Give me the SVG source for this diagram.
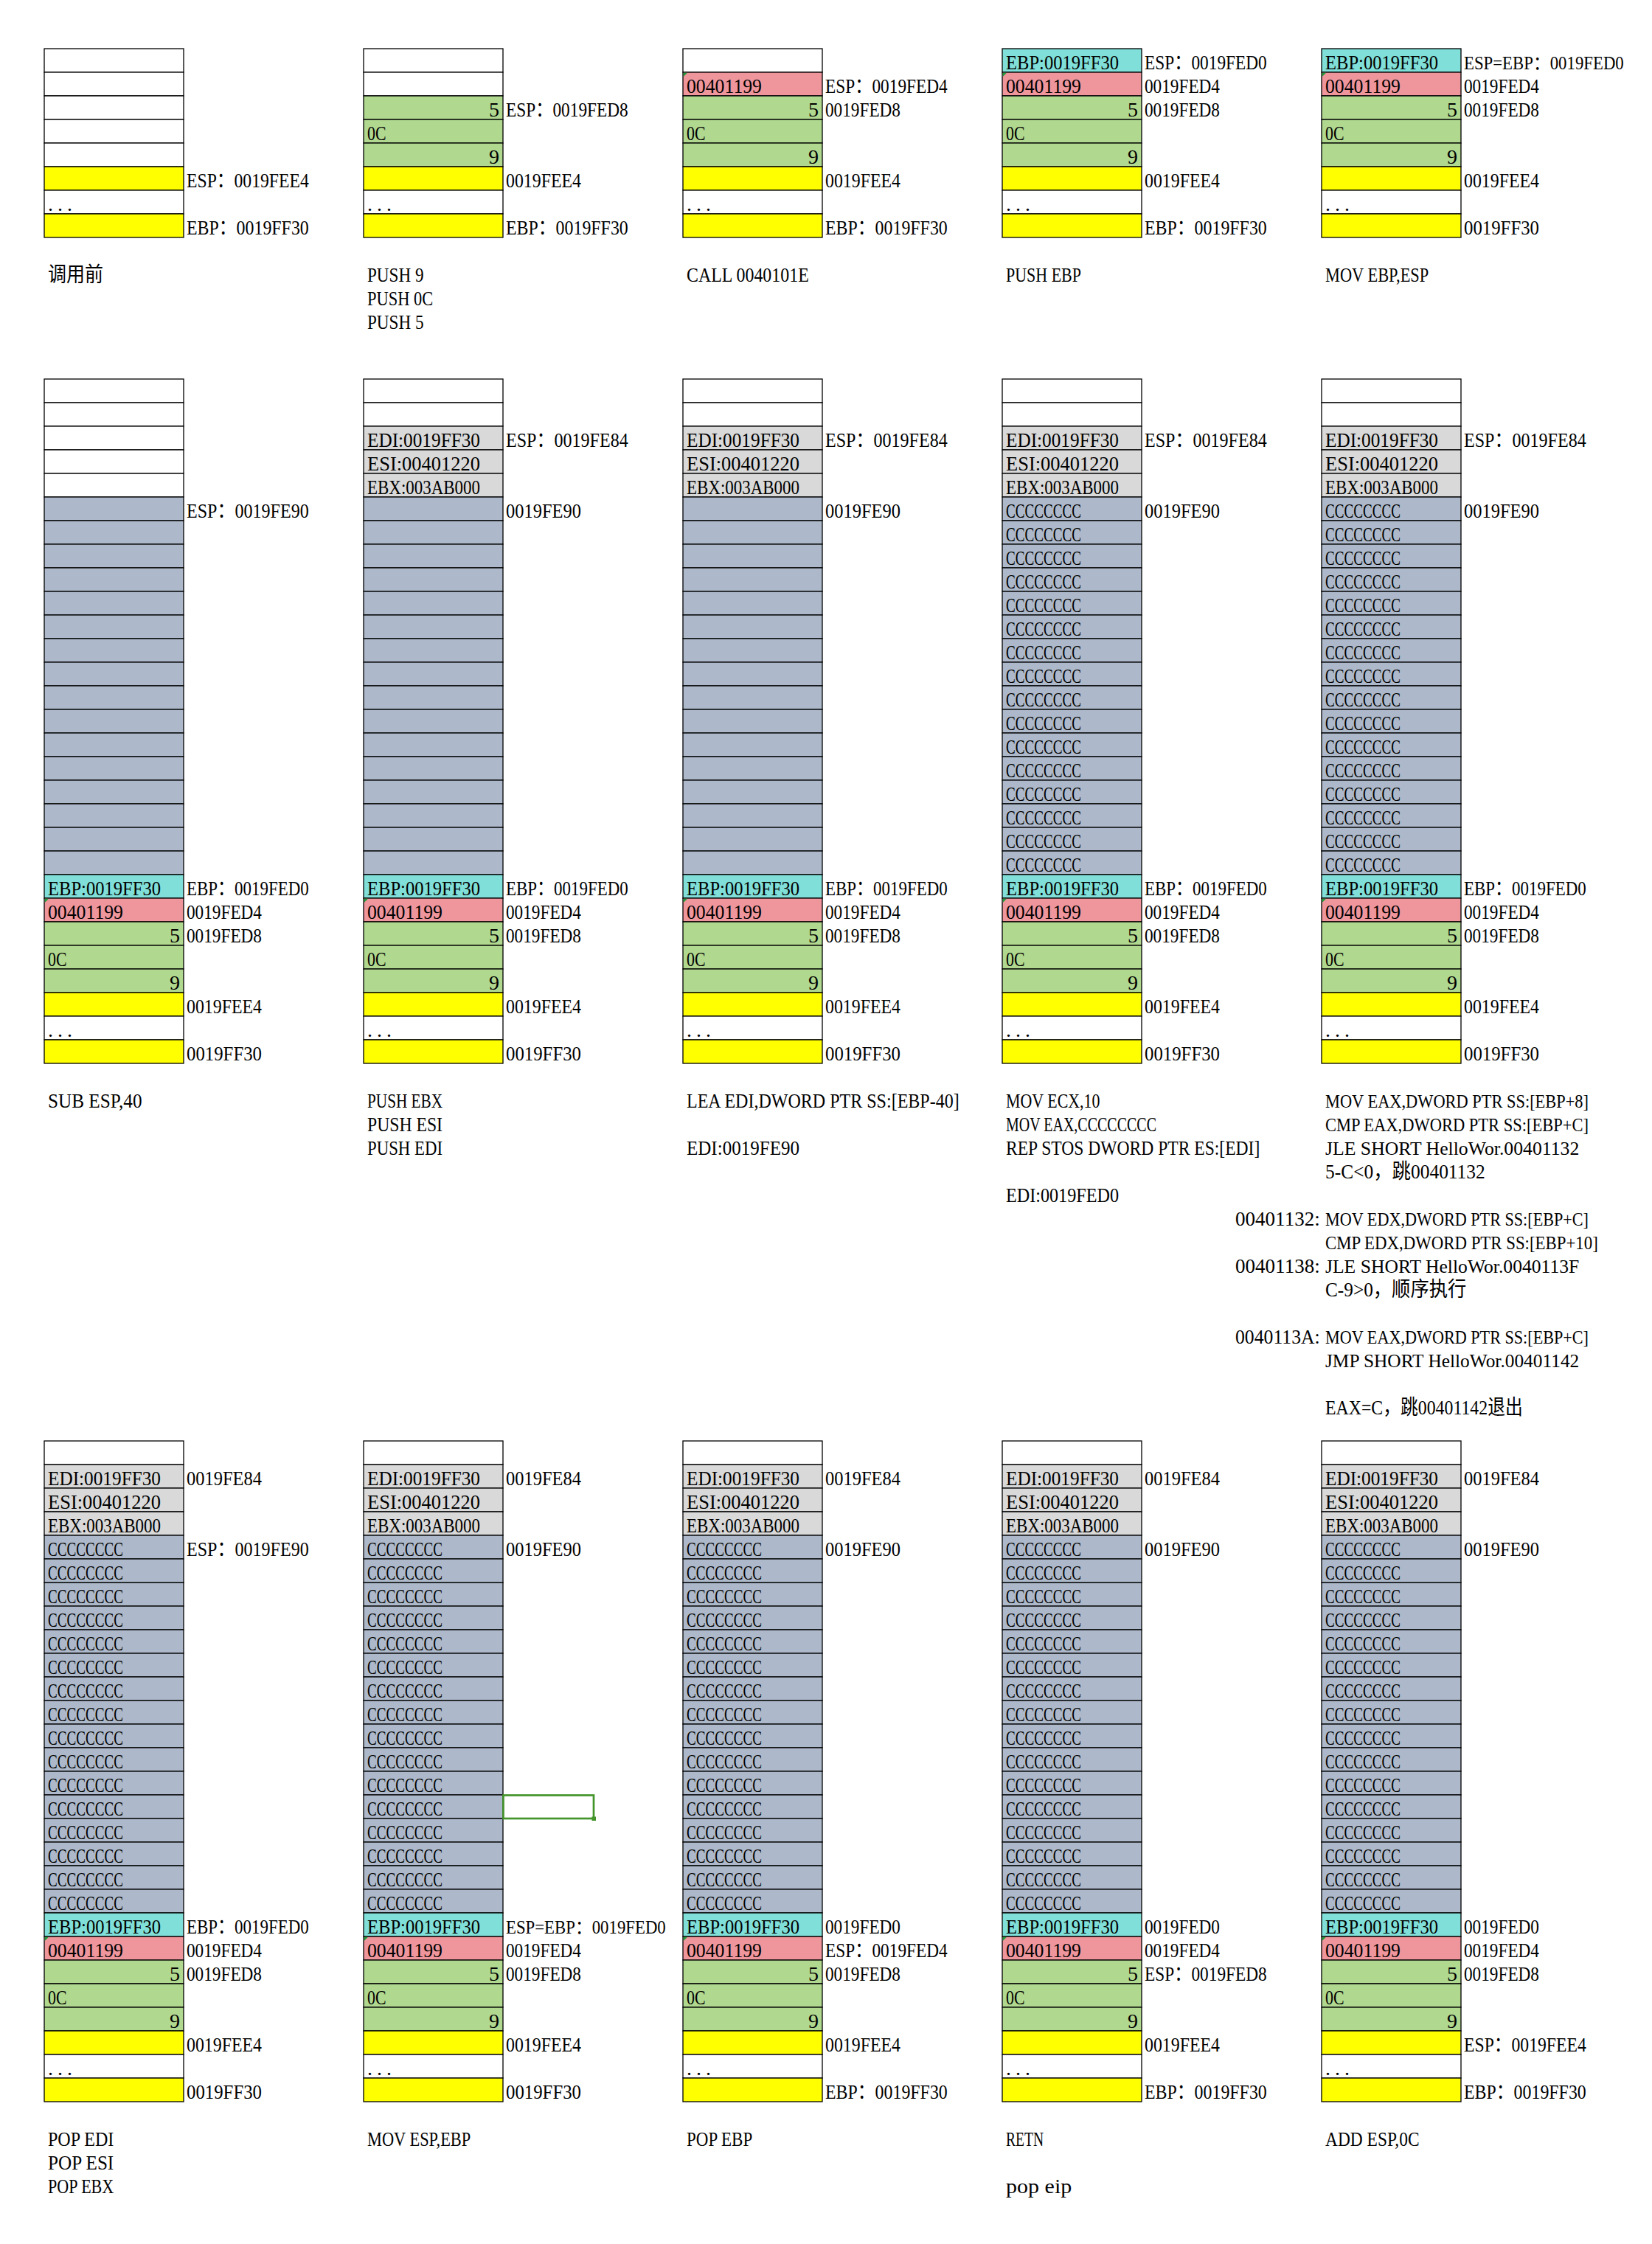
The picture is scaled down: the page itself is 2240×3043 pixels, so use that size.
<svg xmlns="http://www.w3.org/2000/svg" width="2240" height="3043" viewBox="0 0 2240 3043">
<style>
.k{stroke:#000;stroke-width:1.3}
.w{fill:#fff}.y{fill:#ff0}.g{fill:#b0d88f}.p{fill:#ef969d}.c{fill:#80dfd8}.l{fill:#d9d9d9}.b{fill:#adb9ca}
text{font-family:"Liberation Serif","Noto Sans CJK SC",serif;font-size:28px;fill:#000}
text.s{font-size:25px}
.e{text-anchor:end}
.d{letter-spacing:6px}
.tri{fill:#1f9a3a}
.sel{fill:none;stroke:#43952b;stroke-width:2.7}
</style>
<rect width="2240" height="3043" fill="#fff"/>

<!-- ROW 1 -->
<g id="s1" transform="translate(60,66)">
<rect class="k w" y="0" width="189" height="32"/><rect class="k w" y="32" width="189" height="32"/><rect class="k w" y="64" width="189" height="32"/><rect class="k w" y="96" width="189" height="32"/><rect class="k w" y="128" width="189" height="32"/><rect class="k y" y="160" width="189" height="32"/><rect class="k w" y="192" width="189" height="32"/><rect class="k y" y="224" width="189" height="32"/>
<text x="5" y="219.5" class="d">...</text>
<text x="193" y="187.5" textLength="165.75" lengthAdjust="spacingAndGlyphs">ESP：0019FEE4</text>
<text x="193" y="251.5" textLength="165.75" lengthAdjust="spacingAndGlyphs">EBP：0019FF30</text>
<text x="5" y="315.5" textLength="75" lengthAdjust="spacingAndGlyphs">调用前</text>
</g>

<g id="s2" transform="translate(493,66)">
<rect class="k w" y="0" width="189" height="32"/><rect class="k w" y="32" width="189" height="32"/><rect class="k g" y="64" width="189" height="32"/><rect class="k g" y="96" width="189" height="32"/><rect class="k g" y="128" width="189" height="32"/><rect class="k y" y="160" width="189" height="32"/><rect class="k w" y="192" width="189" height="32"/><rect class="k y" y="224" width="189" height="32"/>
<text x="184" y="91.5" class="e">5</text>
<text x="5" y="123.5" textLength="25.5" lengthAdjust="spacingAndGlyphs">0C</text>
<text x="184" y="155.5" class="e">9</text>
<text x="5" y="219.5" class="d">...</text>
<text x="193" y="91.5" textLength="165.75" lengthAdjust="spacingAndGlyphs">ESP：0019FED8</text>
<text x="193" y="187.5" textLength="102" lengthAdjust="spacingAndGlyphs">0019FEE4</text>
<text x="193" y="251.5" textLength="165.75" lengthAdjust="spacingAndGlyphs">EBP：0019FF30</text>
<text x="5" y="315.5" textLength="76.5" lengthAdjust="spacingAndGlyphs">PUSH 9</text>
<text x="5" y="347.5" textLength="89.25" lengthAdjust="spacingAndGlyphs">PUSH 0C</text>
<text x="5" y="379.5" textLength="76.5" lengthAdjust="spacingAndGlyphs">PUSH 5</text>
</g>

<g id="s3" transform="translate(926,66)">
<rect class="k w" y="0" width="189" height="32"/><rect class="k p" y="32" width="189" height="32"/><rect class="k g" y="64" width="189" height="32"/><rect class="k g" y="96" width="189" height="32"/><rect class="k g" y="128" width="189" height="32"/><rect class="k y" y="160" width="189" height="32"/><rect class="k w" y="192" width="189" height="32"/><rect class="k y" y="224" width="189" height="32"/>
<polygon class="tri" points="0.7,32.7 6,32.7 0.7,38"/>
<text x="5" y="59.5" textLength="102" lengthAdjust="spacingAndGlyphs">00401199</text>
<text x="184" y="91.5" class="e">5</text>
<text x="5" y="123.5" textLength="25.5" lengthAdjust="spacingAndGlyphs">0C</text>
<text x="184" y="155.5" class="e">9</text>
<text x="5" y="219.5" class="d">...</text>
<text x="193" y="59.5" textLength="165.75" lengthAdjust="spacingAndGlyphs">ESP：0019FED4</text>
<text x="193" y="91.5" textLength="102" lengthAdjust="spacingAndGlyphs">0019FED8</text>
<text x="193" y="187.5" textLength="102" lengthAdjust="spacingAndGlyphs">0019FEE4</text>
<text x="193" y="251.5" textLength="165.75" lengthAdjust="spacingAndGlyphs">EBP：0019FF30</text>
<text x="5" y="315.5" textLength="165.75" lengthAdjust="spacingAndGlyphs">CALL 0040101E</text>
</g>

<g id="s4" transform="translate(1359,66)">
<rect class="k c" y="0" width="189" height="32"/><rect class="k p" y="32" width="189" height="32"/><rect class="k g" y="64" width="189" height="32"/><rect class="k g" y="96" width="189" height="32"/><rect class="k g" y="128" width="189" height="32"/><rect class="k y" y="160" width="189" height="32"/><rect class="k w" y="192" width="189" height="32"/><rect class="k y" y="224" width="189" height="32"/>
<polygon class="tri" points="0.7,32.7 6,32.7 0.7,38"/>
<text x="5" y="27.5" textLength="153" lengthAdjust="spacingAndGlyphs">EBP:0019FF30</text>
<text x="5" y="59.5" textLength="102" lengthAdjust="spacingAndGlyphs">00401199</text>
<text x="184" y="91.5" class="e">5</text>
<text x="5" y="123.5" textLength="25.5" lengthAdjust="spacingAndGlyphs">0C</text>
<text x="184" y="155.5" class="e">9</text>
<text x="5" y="219.5" class="d">...</text>
<text x="193" y="27.5" textLength="165.75" lengthAdjust="spacingAndGlyphs">ESP：0019FED0</text>
<text x="193" y="59.5" textLength="102" lengthAdjust="spacingAndGlyphs">0019FED4</text>
<text x="193" y="91.5" textLength="102" lengthAdjust="spacingAndGlyphs">0019FED8</text>
<text x="193" y="187.5" textLength="102" lengthAdjust="spacingAndGlyphs">0019FEE4</text>
<text x="193" y="251.5" textLength="165.75" lengthAdjust="spacingAndGlyphs">EBP：0019FF30</text>
<text x="5" y="315.5" textLength="102" lengthAdjust="spacingAndGlyphs">PUSH EBP</text>
</g>

<g id="s5" transform="translate(1792,66)">
<rect class="k c" y="0" width="189" height="32"/><rect class="k p" y="32" width="189" height="32"/><rect class="k g" y="64" width="189" height="32"/><rect class="k g" y="96" width="189" height="32"/><rect class="k g" y="128" width="189" height="32"/><rect class="k y" y="160" width="189" height="32"/><rect class="k w" y="192" width="189" height="32"/><rect class="k y" y="224" width="189" height="32"/>
<polygon class="tri" points="0.7,32.7 6,32.7 0.7,38"/>
<text x="5" y="27.5" textLength="153" lengthAdjust="spacingAndGlyphs">EBP:0019FF30</text>
<text x="5" y="59.5" textLength="102" lengthAdjust="spacingAndGlyphs">00401199</text>
<text x="184" y="91.5" class="e">5</text>
<text x="5" y="123.5" textLength="25.5" lengthAdjust="spacingAndGlyphs">0C</text>
<text x="184" y="155.5" class="e">9</text>
<text x="5" y="219.5" class="d">...</text>
<text x="193" y="27.5" class="s" textLength="216.75" lengthAdjust="spacingAndGlyphs">ESP=EBP：0019FED0</text>
<text x="193" y="59.5" textLength="102" lengthAdjust="spacingAndGlyphs">0019FED4</text>
<text x="193" y="91.5" textLength="102" lengthAdjust="spacingAndGlyphs">0019FED8</text>
<text x="193" y="187.5" textLength="102" lengthAdjust="spacingAndGlyphs">0019FEE4</text>
<text x="193" y="251.5" textLength="102" lengthAdjust="spacingAndGlyphs">0019FF30</text>
<text x="5" y="315.5" textLength="140.25" lengthAdjust="spacingAndGlyphs">MOV EBP,ESP</text>
</g>

<!-- ROW 2 -->
<g id="s6" transform="translate(60,514)">
<rect class="k w" y="0" width="189" height="32"/><rect class="k w" y="32" width="189" height="32"/><rect class="k w" y="64" width="189" height="32"/><rect class="k w" y="96" width="189" height="32"/><rect class="k w" y="128" width="189" height="32"/>
<rect class="k b" y="160" width="189" height="32"/><rect class="k b" y="192" width="189" height="32"/><rect class="k b" y="224" width="189" height="32"/><rect class="k b" y="256" width="189" height="32"/><rect class="k b" y="288" width="189" height="32"/><rect class="k b" y="320" width="189" height="32"/><rect class="k b" y="352" width="189" height="32"/><rect class="k b" y="384" width="189" height="32"/><rect class="k b" y="416" width="189" height="32"/><rect class="k b" y="448" width="189" height="32"/><rect class="k b" y="480" width="189" height="32"/><rect class="k b" y="512" width="189" height="32"/><rect class="k b" y="544" width="189" height="32"/><rect class="k b" y="576" width="189" height="32"/><rect class="k b" y="608" width="189" height="32"/><rect class="k b" y="640" width="189" height="32"/>
<rect class="k c" y="672" width="189" height="32"/><rect class="k p" y="704" width="189" height="32"/><rect class="k g" y="736" width="189" height="32"/><rect class="k g" y="768" width="189" height="32"/><rect class="k g" y="800" width="189" height="32"/><rect class="k y" y="832" width="189" height="32"/><rect class="k w" y="864" width="189" height="32"/><rect class="k y" y="896" width="189" height="32"/>
<polygon class="tri" points="0.7,704.7 6,704.7 0.7,710"/>
<text x="5" y="699.5" textLength="153" lengthAdjust="spacingAndGlyphs">EBP:0019FF30</text>
<text x="5" y="731.5" textLength="102" lengthAdjust="spacingAndGlyphs">00401199</text>
<text x="184" y="763.5" class="e">5</text>
<text x="5" y="795.5" textLength="25.5" lengthAdjust="spacingAndGlyphs">0C</text>
<text x="184" y="827.5" class="e">9</text>
<text x="5" y="891.5" class="d">...</text>
<text x="193" y="187.5" textLength="165.75" lengthAdjust="spacingAndGlyphs">ESP：0019FE90</text>
<text x="193" y="699.5" textLength="165.75" lengthAdjust="spacingAndGlyphs">EBP：0019FED0</text>
<text x="193" y="731.5" textLength="102" lengthAdjust="spacingAndGlyphs">0019FED4</text>
<text x="193" y="763.5" textLength="102" lengthAdjust="spacingAndGlyphs">0019FED8</text>
<text x="193" y="859.5" textLength="102" lengthAdjust="spacingAndGlyphs">0019FEE4</text>
<text x="193" y="923.5" textLength="102" lengthAdjust="spacingAndGlyphs">0019FF30</text>
<text x="5" y="987.5" textLength="127.5" lengthAdjust="spacingAndGlyphs">SUB ESP,40</text>
</g>

<g id="s7" transform="translate(493,514)">
<rect class="k w" y="0" width="189" height="32"/><rect class="k w" y="32" width="189" height="32"/><rect class="k l" y="64" width="189" height="32"/><rect class="k l" y="96" width="189" height="32"/><rect class="k l" y="128" width="189" height="32"/>
<rect class="k b" y="160" width="189" height="32"/><rect class="k b" y="192" width="189" height="32"/><rect class="k b" y="224" width="189" height="32"/><rect class="k b" y="256" width="189" height="32"/><rect class="k b" y="288" width="189" height="32"/><rect class="k b" y="320" width="189" height="32"/><rect class="k b" y="352" width="189" height="32"/><rect class="k b" y="384" width="189" height="32"/><rect class="k b" y="416" width="189" height="32"/><rect class="k b" y="448" width="189" height="32"/><rect class="k b" y="480" width="189" height="32"/><rect class="k b" y="512" width="189" height="32"/><rect class="k b" y="544" width="189" height="32"/><rect class="k b" y="576" width="189" height="32"/><rect class="k b" y="608" width="189" height="32"/><rect class="k b" y="640" width="189" height="32"/>
<rect class="k c" y="672" width="189" height="32"/><rect class="k p" y="704" width="189" height="32"/><rect class="k g" y="736" width="189" height="32"/><rect class="k g" y="768" width="189" height="32"/><rect class="k g" y="800" width="189" height="32"/><rect class="k y" y="832" width="189" height="32"/><rect class="k w" y="864" width="189" height="32"/><rect class="k y" y="896" width="189" height="32"/>
<polygon class="tri" points="0.7,704.7 6,704.7 0.7,710"/>
<text x="5" y="91.5" textLength="153" lengthAdjust="spacingAndGlyphs">EDI:0019FF30</text>
<text x="5" y="123.5" textLength="153" lengthAdjust="spacingAndGlyphs">ESI:00401220</text>
<text x="5" y="155.5" textLength="153" lengthAdjust="spacingAndGlyphs">EBX:003AB000</text>
<text x="5" y="699.5" textLength="153" lengthAdjust="spacingAndGlyphs">EBP:0019FF30</text>
<text x="5" y="731.5" textLength="102" lengthAdjust="spacingAndGlyphs">00401199</text>
<text x="184" y="763.5" class="e">5</text>
<text x="5" y="795.5" textLength="25.5" lengthAdjust="spacingAndGlyphs">0C</text>
<text x="184" y="827.5" class="e">9</text>
<text x="5" y="891.5" class="d">...</text>
<text x="193" y="91.5" textLength="165.75" lengthAdjust="spacingAndGlyphs">ESP：0019FE84</text>
<text x="193" y="187.5" textLength="102" lengthAdjust="spacingAndGlyphs">0019FE90</text>
<text x="193" y="699.5" textLength="165.75" lengthAdjust="spacingAndGlyphs">EBP：0019FED0</text>
<text x="193" y="731.5" textLength="102" lengthAdjust="spacingAndGlyphs">0019FED4</text>
<text x="193" y="763.5" textLength="102" lengthAdjust="spacingAndGlyphs">0019FED8</text>
<text x="193" y="859.5" textLength="102" lengthAdjust="spacingAndGlyphs">0019FEE4</text>
<text x="193" y="923.5" textLength="102" lengthAdjust="spacingAndGlyphs">0019FF30</text>
<text x="5" y="987.5" textLength="102" lengthAdjust="spacingAndGlyphs">PUSH EBX</text>
<text x="5" y="1019.5" textLength="102" lengthAdjust="spacingAndGlyphs">PUSH ESI</text>
<text x="5" y="1051.5" textLength="102" lengthAdjust="spacingAndGlyphs">PUSH EDI</text>
</g>

<g id="s8" transform="translate(926,514)">
<rect class="k w" y="0" width="189" height="32"/><rect class="k w" y="32" width="189" height="32"/><rect class="k l" y="64" width="189" height="32"/><rect class="k l" y="96" width="189" height="32"/><rect class="k l" y="128" width="189" height="32"/>
<rect class="k b" y="160" width="189" height="32"/><rect class="k b" y="192" width="189" height="32"/><rect class="k b" y="224" width="189" height="32"/><rect class="k b" y="256" width="189" height="32"/><rect class="k b" y="288" width="189" height="32"/><rect class="k b" y="320" width="189" height="32"/><rect class="k b" y="352" width="189" height="32"/><rect class="k b" y="384" width="189" height="32"/><rect class="k b" y="416" width="189" height="32"/><rect class="k b" y="448" width="189" height="32"/><rect class="k b" y="480" width="189" height="32"/><rect class="k b" y="512" width="189" height="32"/><rect class="k b" y="544" width="189" height="32"/><rect class="k b" y="576" width="189" height="32"/><rect class="k b" y="608" width="189" height="32"/><rect class="k b" y="640" width="189" height="32"/>
<rect class="k c" y="672" width="189" height="32"/><rect class="k p" y="704" width="189" height="32"/><rect class="k g" y="736" width="189" height="32"/><rect class="k g" y="768" width="189" height="32"/><rect class="k g" y="800" width="189" height="32"/><rect class="k y" y="832" width="189" height="32"/><rect class="k w" y="864" width="189" height="32"/><rect class="k y" y="896" width="189" height="32"/>
<polygon class="tri" points="0.7,704.7 6,704.7 0.7,710"/>
<text x="5" y="91.5" textLength="153" lengthAdjust="spacingAndGlyphs">EDI:0019FF30</text>
<text x="5" y="123.5" textLength="153" lengthAdjust="spacingAndGlyphs">ESI:00401220</text>
<text x="5" y="155.5" textLength="153" lengthAdjust="spacingAndGlyphs">EBX:003AB000</text>
<text x="5" y="699.5" textLength="153" lengthAdjust="spacingAndGlyphs">EBP:0019FF30</text>
<text x="5" y="731.5" textLength="102" lengthAdjust="spacingAndGlyphs">00401199</text>
<text x="184" y="763.5" class="e">5</text>
<text x="5" y="795.5" textLength="25.5" lengthAdjust="spacingAndGlyphs">0C</text>
<text x="184" y="827.5" class="e">9</text>
<text x="5" y="891.5" class="d">...</text>
<text x="193" y="91.5" textLength="165.75" lengthAdjust="spacingAndGlyphs">ESP：0019FE84</text>
<text x="193" y="187.5" textLength="102" lengthAdjust="spacingAndGlyphs">0019FE90</text>
<text x="193" y="699.5" textLength="165.75" lengthAdjust="spacingAndGlyphs">EBP：0019FED0</text>
<text x="193" y="731.5" textLength="102" lengthAdjust="spacingAndGlyphs">0019FED4</text>
<text x="193" y="763.5" textLength="102" lengthAdjust="spacingAndGlyphs">0019FED8</text>
<text x="193" y="859.5" textLength="102" lengthAdjust="spacingAndGlyphs">0019FEE4</text>
<text x="193" y="923.5" textLength="102" lengthAdjust="spacingAndGlyphs">0019FF30</text>
<text x="5" y="987.5" textLength="369.75" lengthAdjust="spacingAndGlyphs">LEA EDI,DWORD PTR SS:[EBP-40]</text>
<text x="5" y="1051.5" textLength="153" lengthAdjust="spacingAndGlyphs">EDI:0019FE90</text>
</g>

<g id="s9" transform="translate(1359,514)">
<rect class="k w" y="0" width="189" height="32"/><rect class="k w" y="32" width="189" height="32"/><rect class="k l" y="64" width="189" height="32"/><rect class="k l" y="96" width="189" height="32"/><rect class="k l" y="128" width="189" height="32"/>
<rect class="k b" y="160" width="189" height="32"/><rect class="k b" y="192" width="189" height="32"/><rect class="k b" y="224" width="189" height="32"/><rect class="k b" y="256" width="189" height="32"/><rect class="k b" y="288" width="189" height="32"/><rect class="k b" y="320" width="189" height="32"/><rect class="k b" y="352" width="189" height="32"/><rect class="k b" y="384" width="189" height="32"/><rect class="k b" y="416" width="189" height="32"/><rect class="k b" y="448" width="189" height="32"/><rect class="k b" y="480" width="189" height="32"/><rect class="k b" y="512" width="189" height="32"/><rect class="k b" y="544" width="189" height="32"/><rect class="k b" y="576" width="189" height="32"/><rect class="k b" y="608" width="189" height="32"/><rect class="k b" y="640" width="189" height="32"/>
<rect class="k c" y="672" width="189" height="32"/><rect class="k p" y="704" width="189" height="32"/><rect class="k g" y="736" width="189" height="32"/><rect class="k g" y="768" width="189" height="32"/><rect class="k g" y="800" width="189" height="32"/><rect class="k y" y="832" width="189" height="32"/><rect class="k w" y="864" width="189" height="32"/><rect class="k y" y="896" width="189" height="32"/>
<polygon class="tri" points="0.7,704.7 6,704.7 0.7,710"/>
<text x="5" y="91.5" textLength="153" lengthAdjust="spacingAndGlyphs">EDI:0019FF30</text>
<text x="5" y="123.5" textLength="153" lengthAdjust="spacingAndGlyphs">ESI:00401220</text>
<text x="5" y="155.5" textLength="153" lengthAdjust="spacingAndGlyphs">EBX:003AB000</text>
<text x="5" y="187.5" textLength="102" lengthAdjust="spacingAndGlyphs">CCCCCCCC</text>
<text x="5" y="219.5" textLength="102" lengthAdjust="spacingAndGlyphs">CCCCCCCC</text>
<text x="5" y="251.5" textLength="102" lengthAdjust="spacingAndGlyphs">CCCCCCCC</text>
<text x="5" y="283.5" textLength="102" lengthAdjust="spacingAndGlyphs">CCCCCCCC</text>
<text x="5" y="315.5" textLength="102" lengthAdjust="spacingAndGlyphs">CCCCCCCC</text>
<text x="5" y="347.5" textLength="102" lengthAdjust="spacingAndGlyphs">CCCCCCCC</text>
<text x="5" y="379.5" textLength="102" lengthAdjust="spacingAndGlyphs">CCCCCCCC</text>
<text x="5" y="411.5" textLength="102" lengthAdjust="spacingAndGlyphs">CCCCCCCC</text>
<text x="5" y="443.5" textLength="102" lengthAdjust="spacingAndGlyphs">CCCCCCCC</text>
<text x="5" y="475.5" textLength="102" lengthAdjust="spacingAndGlyphs">CCCCCCCC</text>
<text x="5" y="507.5" textLength="102" lengthAdjust="spacingAndGlyphs">CCCCCCCC</text>
<text x="5" y="539.5" textLength="102" lengthAdjust="spacingAndGlyphs">CCCCCCCC</text>
<text x="5" y="571.5" textLength="102" lengthAdjust="spacingAndGlyphs">CCCCCCCC</text>
<text x="5" y="603.5" textLength="102" lengthAdjust="spacingAndGlyphs">CCCCCCCC</text>
<text x="5" y="635.5" textLength="102" lengthAdjust="spacingAndGlyphs">CCCCCCCC</text>
<text x="5" y="667.5" textLength="102" lengthAdjust="spacingAndGlyphs">CCCCCCCC</text>
<text x="5" y="699.5" textLength="153" lengthAdjust="spacingAndGlyphs">EBP:0019FF30</text>
<text x="5" y="731.5" textLength="102" lengthAdjust="spacingAndGlyphs">00401199</text>
<text x="184" y="763.5" class="e">5</text>
<text x="5" y="795.5" textLength="25.5" lengthAdjust="spacingAndGlyphs">0C</text>
<text x="184" y="827.5" class="e">9</text>
<text x="5" y="891.5" class="d">...</text>
<text x="193" y="91.5" textLength="165.75" lengthAdjust="spacingAndGlyphs">ESP：0019FE84</text>
<text x="193" y="187.5" textLength="102" lengthAdjust="spacingAndGlyphs">0019FE90</text>
<text x="193" y="699.5" textLength="165.75" lengthAdjust="spacingAndGlyphs">EBP：0019FED0</text>
<text x="193" y="731.5" textLength="102" lengthAdjust="spacingAndGlyphs">0019FED4</text>
<text x="193" y="763.5" textLength="102" lengthAdjust="spacingAndGlyphs">0019FED8</text>
<text x="193" y="859.5" textLength="102" lengthAdjust="spacingAndGlyphs">0019FEE4</text>
<text x="193" y="923.5" textLength="102" lengthAdjust="spacingAndGlyphs">0019FF30</text>
<text x="5" y="987.5" textLength="127.5" lengthAdjust="spacingAndGlyphs">MOV ECX,10</text>
<text x="5" y="1019.5" textLength="204" lengthAdjust="spacingAndGlyphs">MOV EAX,CCCCCCCC</text>
<text x="5" y="1051.5" textLength="344.25" lengthAdjust="spacingAndGlyphs">REP STOS DWORD PTR ES:[EDI]</text>
<text x="5" y="1115.5" textLength="153" lengthAdjust="spacingAndGlyphs">EDI:0019FED0</text>
</g>

<g id="s10" transform="translate(1792,514)">
<rect class="k w" y="0" width="189" height="32"/><rect class="k w" y="32" width="189" height="32"/><rect class="k l" y="64" width="189" height="32"/><rect class="k l" y="96" width="189" height="32"/><rect class="k l" y="128" width="189" height="32"/>
<rect class="k b" y="160" width="189" height="32"/><rect class="k b" y="192" width="189" height="32"/><rect class="k b" y="224" width="189" height="32"/><rect class="k b" y="256" width="189" height="32"/><rect class="k b" y="288" width="189" height="32"/><rect class="k b" y="320" width="189" height="32"/><rect class="k b" y="352" width="189" height="32"/><rect class="k b" y="384" width="189" height="32"/><rect class="k b" y="416" width="189" height="32"/><rect class="k b" y="448" width="189" height="32"/><rect class="k b" y="480" width="189" height="32"/><rect class="k b" y="512" width="189" height="32"/><rect class="k b" y="544" width="189" height="32"/><rect class="k b" y="576" width="189" height="32"/><rect class="k b" y="608" width="189" height="32"/><rect class="k b" y="640" width="189" height="32"/>
<rect class="k c" y="672" width="189" height="32"/><rect class="k p" y="704" width="189" height="32"/><rect class="k g" y="736" width="189" height="32"/><rect class="k g" y="768" width="189" height="32"/><rect class="k g" y="800" width="189" height="32"/><rect class="k y" y="832" width="189" height="32"/><rect class="k w" y="864" width="189" height="32"/><rect class="k y" y="896" width="189" height="32"/>
<polygon class="tri" points="0.7,704.7 6,704.7 0.7,710"/>
<text x="5" y="91.5" textLength="153" lengthAdjust="spacingAndGlyphs">EDI:0019FF30</text>
<text x="5" y="123.5" textLength="153" lengthAdjust="spacingAndGlyphs">ESI:00401220</text>
<text x="5" y="155.5" textLength="153" lengthAdjust="spacingAndGlyphs">EBX:003AB000</text>
<text x="5" y="187.5" textLength="102" lengthAdjust="spacingAndGlyphs">CCCCCCCC</text>
<text x="5" y="219.5" textLength="102" lengthAdjust="spacingAndGlyphs">CCCCCCCC</text>
<text x="5" y="251.5" textLength="102" lengthAdjust="spacingAndGlyphs">CCCCCCCC</text>
<text x="5" y="283.5" textLength="102" lengthAdjust="spacingAndGlyphs">CCCCCCCC</text>
<text x="5" y="315.5" textLength="102" lengthAdjust="spacingAndGlyphs">CCCCCCCC</text>
<text x="5" y="347.5" textLength="102" lengthAdjust="spacingAndGlyphs">CCCCCCCC</text>
<text x="5" y="379.5" textLength="102" lengthAdjust="spacingAndGlyphs">CCCCCCCC</text>
<text x="5" y="411.5" textLength="102" lengthAdjust="spacingAndGlyphs">CCCCCCCC</text>
<text x="5" y="443.5" textLength="102" lengthAdjust="spacingAndGlyphs">CCCCCCCC</text>
<text x="5" y="475.5" textLength="102" lengthAdjust="spacingAndGlyphs">CCCCCCCC</text>
<text x="5" y="507.5" textLength="102" lengthAdjust="spacingAndGlyphs">CCCCCCCC</text>
<text x="5" y="539.5" textLength="102" lengthAdjust="spacingAndGlyphs">CCCCCCCC</text>
<text x="5" y="571.5" textLength="102" lengthAdjust="spacingAndGlyphs">CCCCCCCC</text>
<text x="5" y="603.5" textLength="102" lengthAdjust="spacingAndGlyphs">CCCCCCCC</text>
<text x="5" y="635.5" textLength="102" lengthAdjust="spacingAndGlyphs">CCCCCCCC</text>
<text x="5" y="667.5" textLength="102" lengthAdjust="spacingAndGlyphs">CCCCCCCC</text>
<text x="5" y="699.5" textLength="153" lengthAdjust="spacingAndGlyphs">EBP:0019FF30</text>
<text x="5" y="731.5" textLength="102" lengthAdjust="spacingAndGlyphs">00401199</text>
<text x="184" y="763.5" class="e">5</text>
<text x="5" y="795.5" textLength="25.5" lengthAdjust="spacingAndGlyphs">0C</text>
<text x="184" y="827.5" class="e">9</text>
<text x="5" y="891.5" class="d">...</text>
<text x="193" y="91.5" textLength="165.75" lengthAdjust="spacingAndGlyphs">ESP：0019FE84</text>
<text x="193" y="187.5" textLength="102" lengthAdjust="spacingAndGlyphs">0019FE90</text>
<text x="193" y="699.5" textLength="165.75" lengthAdjust="spacingAndGlyphs">EBP：0019FED0</text>
<text x="193" y="731.5" textLength="102" lengthAdjust="spacingAndGlyphs">0019FED4</text>
<text x="193" y="763.5" textLength="102" lengthAdjust="spacingAndGlyphs">0019FED8</text>
<text x="193" y="859.5" textLength="102" lengthAdjust="spacingAndGlyphs">0019FEE4</text>
<text x="193" y="923.5" textLength="102" lengthAdjust="spacingAndGlyphs">0019FF30</text>
<text x="5" y="987.5" class="s" textLength="357" lengthAdjust="spacingAndGlyphs">MOV EAX,DWORD PTR SS:[EBP+8]</text>
<text x="5" y="1019.5" class="s" textLength="357" lengthAdjust="spacingAndGlyphs">CMP EAX,DWORD PTR SS:[EBP+C]</text>
<text x="5" y="1051.5" class="s" textLength="344.25" lengthAdjust="spacingAndGlyphs">JLE SHORT HelloWor.00401132</text>
<text x="5" y="1083.5" textLength="216.75" lengthAdjust="spacingAndGlyphs">5-C&lt;0，跳00401132</text>
<text x="-117" y="1147.5" textLength="114.75" lengthAdjust="spacingAndGlyphs">00401132:</text>
<text x="5" y="1147.5" class="s" textLength="357" lengthAdjust="spacingAndGlyphs">MOV EDX,DWORD PTR SS:[EBP+C]</text>
<text x="5" y="1179.5" class="s" textLength="369.75" lengthAdjust="spacingAndGlyphs">CMP EDX,DWORD PTR SS:[EBP+10]</text>
<text x="-117" y="1211.5" textLength="114.75" lengthAdjust="spacingAndGlyphs">00401138:</text>
<text x="5" y="1211.5" class="s" textLength="344.25" lengthAdjust="spacingAndGlyphs">JLE SHORT HelloWor.0040113F</text>
<text x="5" y="1243.5" textLength="191.25" lengthAdjust="spacingAndGlyphs">C-9&gt;0，顺序执行</text>
<text x="-117" y="1307.5" textLength="114.75" lengthAdjust="spacingAndGlyphs">0040113A:</text>
<text x="5" y="1307.5" class="s" textLength="357" lengthAdjust="spacingAndGlyphs">MOV EAX,DWORD PTR SS:[EBP+C]</text>
<text x="5" y="1339.5" class="s" textLength="344.25" lengthAdjust="spacingAndGlyphs">JMP SHORT HelloWor.00401142</text>
<text x="5" y="1403.5" textLength="267.75" lengthAdjust="spacingAndGlyphs">EAX=C，跳00401142退出</text>
</g>

<!-- ROW 3 -->
<g id="s11" transform="translate(60,1954)">
<rect class="k w" y="0" width="189" height="32"/><rect class="k l" y="32" width="189" height="32"/><rect class="k l" y="64" width="189" height="32"/><rect class="k l" y="96" width="189" height="32"/>
<rect class="k b" y="128" width="189" height="32"/><rect class="k b" y="160" width="189" height="32"/><rect class="k b" y="192" width="189" height="32"/><rect class="k b" y="224" width="189" height="32"/><rect class="k b" y="256" width="189" height="32"/><rect class="k b" y="288" width="189" height="32"/><rect class="k b" y="320" width="189" height="32"/><rect class="k b" y="352" width="189" height="32"/><rect class="k b" y="384" width="189" height="32"/><rect class="k b" y="416" width="189" height="32"/><rect class="k b" y="448" width="189" height="32"/><rect class="k b" y="480" width="189" height="32"/><rect class="k b" y="512" width="189" height="32"/><rect class="k b" y="544" width="189" height="32"/><rect class="k b" y="576" width="189" height="32"/><rect class="k b" y="608" width="189" height="32"/>
<rect class="k c" y="640" width="189" height="32"/><rect class="k p" y="672" width="189" height="32"/><rect class="k g" y="704" width="189" height="32"/><rect class="k g" y="736" width="189" height="32"/><rect class="k g" y="768" width="189" height="32"/><rect class="k y" y="800" width="189" height="32"/><rect class="k w" y="832" width="189" height="32"/><rect class="k y" y="864" width="189" height="32"/>
<polygon class="tri" points="0.7,672.7 6,672.7 0.7,678"/>
<text x="5" y="59.5" textLength="153" lengthAdjust="spacingAndGlyphs">EDI:0019FF30</text>
<text x="5" y="91.5" textLength="153" lengthAdjust="spacingAndGlyphs">ESI:00401220</text>
<text x="5" y="123.5" textLength="153" lengthAdjust="spacingAndGlyphs">EBX:003AB000</text>
<text x="5" y="155.5" textLength="102" lengthAdjust="spacingAndGlyphs">CCCCCCCC</text>
<text x="5" y="187.5" textLength="102" lengthAdjust="spacingAndGlyphs">CCCCCCCC</text>
<text x="5" y="219.5" textLength="102" lengthAdjust="spacingAndGlyphs">CCCCCCCC</text>
<text x="5" y="251.5" textLength="102" lengthAdjust="spacingAndGlyphs">CCCCCCCC</text>
<text x="5" y="283.5" textLength="102" lengthAdjust="spacingAndGlyphs">CCCCCCCC</text>
<text x="5" y="315.5" textLength="102" lengthAdjust="spacingAndGlyphs">CCCCCCCC</text>
<text x="5" y="347.5" textLength="102" lengthAdjust="spacingAndGlyphs">CCCCCCCC</text>
<text x="5" y="379.5" textLength="102" lengthAdjust="spacingAndGlyphs">CCCCCCCC</text>
<text x="5" y="411.5" textLength="102" lengthAdjust="spacingAndGlyphs">CCCCCCCC</text>
<text x="5" y="443.5" textLength="102" lengthAdjust="spacingAndGlyphs">CCCCCCCC</text>
<text x="5" y="475.5" textLength="102" lengthAdjust="spacingAndGlyphs">CCCCCCCC</text>
<text x="5" y="507.5" textLength="102" lengthAdjust="spacingAndGlyphs">CCCCCCCC</text>
<text x="5" y="539.5" textLength="102" lengthAdjust="spacingAndGlyphs">CCCCCCCC</text>
<text x="5" y="571.5" textLength="102" lengthAdjust="spacingAndGlyphs">CCCCCCCC</text>
<text x="5" y="603.5" textLength="102" lengthAdjust="spacingAndGlyphs">CCCCCCCC</text>
<text x="5" y="635.5" textLength="102" lengthAdjust="spacingAndGlyphs">CCCCCCCC</text>
<text x="5" y="667.5" textLength="153" lengthAdjust="spacingAndGlyphs">EBP:0019FF30</text>
<text x="5" y="699.5" textLength="102" lengthAdjust="spacingAndGlyphs">00401199</text>
<text x="184" y="731.5" class="e">5</text>
<text x="5" y="763.5" textLength="25.5" lengthAdjust="spacingAndGlyphs">0C</text>
<text x="184" y="795.5" class="e">9</text>
<text x="5" y="859.5" class="d">...</text>
<text x="193" y="59.5" textLength="102" lengthAdjust="spacingAndGlyphs">0019FE84</text>
<text x="193" y="155.5" textLength="165.75" lengthAdjust="spacingAndGlyphs">ESP：0019FE90</text>
<text x="193" y="667.5" textLength="165.75" lengthAdjust="spacingAndGlyphs">EBP：0019FED0</text>
<text x="193" y="699.5" textLength="102" lengthAdjust="spacingAndGlyphs">0019FED4</text>
<text x="193" y="731.5" textLength="102" lengthAdjust="spacingAndGlyphs">0019FED8</text>
<text x="193" y="827.5" textLength="102" lengthAdjust="spacingAndGlyphs">0019FEE4</text>
<text x="193" y="891.5" textLength="102" lengthAdjust="spacingAndGlyphs">0019FF30</text>
<text x="5" y="955.5" textLength="89.25" lengthAdjust="spacingAndGlyphs">POP EDI</text>
<text x="5" y="987.5" textLength="89.25" lengthAdjust="spacingAndGlyphs">POP ESI</text>
<text x="5" y="1019.5" textLength="89.25" lengthAdjust="spacingAndGlyphs">POP EBX</text>
</g>

<g id="s12" transform="translate(493,1954)">
<rect class="k w" y="0" width="189" height="32"/><rect class="k l" y="32" width="189" height="32"/><rect class="k l" y="64" width="189" height="32"/><rect class="k l" y="96" width="189" height="32"/>
<rect class="k b" y="128" width="189" height="32"/><rect class="k b" y="160" width="189" height="32"/><rect class="k b" y="192" width="189" height="32"/><rect class="k b" y="224" width="189" height="32"/><rect class="k b" y="256" width="189" height="32"/><rect class="k b" y="288" width="189" height="32"/><rect class="k b" y="320" width="189" height="32"/><rect class="k b" y="352" width="189" height="32"/><rect class="k b" y="384" width="189" height="32"/><rect class="k b" y="416" width="189" height="32"/><rect class="k b" y="448" width="189" height="32"/><rect class="k b" y="480" width="189" height="32"/><rect class="k b" y="512" width="189" height="32"/><rect class="k b" y="544" width="189" height="32"/><rect class="k b" y="576" width="189" height="32"/><rect class="k b" y="608" width="189" height="32"/>
<rect class="k c" y="640" width="189" height="32"/><rect class="k p" y="672" width="189" height="32"/><rect class="k g" y="704" width="189" height="32"/><rect class="k g" y="736" width="189" height="32"/><rect class="k g" y="768" width="189" height="32"/><rect class="k y" y="800" width="189" height="32"/><rect class="k w" y="832" width="189" height="32"/><rect class="k y" y="864" width="189" height="32"/>
<polygon class="tri" points="0.7,672.7 6,672.7 0.7,678"/>
<rect class="sel" x="189.5" y="480.5" width="122.5" height="31.5"/>
<rect x="309.5" y="509.5" width="5.5" height="5.5" fill="#43952b"/>
<text x="5" y="59.5" textLength="153" lengthAdjust="spacingAndGlyphs">EDI:0019FF30</text>
<text x="5" y="91.5" textLength="153" lengthAdjust="spacingAndGlyphs">ESI:00401220</text>
<text x="5" y="123.5" textLength="153" lengthAdjust="spacingAndGlyphs">EBX:003AB000</text>
<text x="5" y="155.5" textLength="102" lengthAdjust="spacingAndGlyphs">CCCCCCCC</text>
<text x="5" y="187.5" textLength="102" lengthAdjust="spacingAndGlyphs">CCCCCCCC</text>
<text x="5" y="219.5" textLength="102" lengthAdjust="spacingAndGlyphs">CCCCCCCC</text>
<text x="5" y="251.5" textLength="102" lengthAdjust="spacingAndGlyphs">CCCCCCCC</text>
<text x="5" y="283.5" textLength="102" lengthAdjust="spacingAndGlyphs">CCCCCCCC</text>
<text x="5" y="315.5" textLength="102" lengthAdjust="spacingAndGlyphs">CCCCCCCC</text>
<text x="5" y="347.5" textLength="102" lengthAdjust="spacingAndGlyphs">CCCCCCCC</text>
<text x="5" y="379.5" textLength="102" lengthAdjust="spacingAndGlyphs">CCCCCCCC</text>
<text x="5" y="411.5" textLength="102" lengthAdjust="spacingAndGlyphs">CCCCCCCC</text>
<text x="5" y="443.5" textLength="102" lengthAdjust="spacingAndGlyphs">CCCCCCCC</text>
<text x="5" y="475.5" textLength="102" lengthAdjust="spacingAndGlyphs">CCCCCCCC</text>
<text x="5" y="507.5" textLength="102" lengthAdjust="spacingAndGlyphs">CCCCCCCC</text>
<text x="5" y="539.5" textLength="102" lengthAdjust="spacingAndGlyphs">CCCCCCCC</text>
<text x="5" y="571.5" textLength="102" lengthAdjust="spacingAndGlyphs">CCCCCCCC</text>
<text x="5" y="603.5" textLength="102" lengthAdjust="spacingAndGlyphs">CCCCCCCC</text>
<text x="5" y="635.5" textLength="102" lengthAdjust="spacingAndGlyphs">CCCCCCCC</text>
<text x="5" y="667.5" textLength="153" lengthAdjust="spacingAndGlyphs">EBP:0019FF30</text>
<text x="5" y="699.5" textLength="102" lengthAdjust="spacingAndGlyphs">00401199</text>
<text x="184" y="731.5" class="e">5</text>
<text x="5" y="763.5" textLength="25.5" lengthAdjust="spacingAndGlyphs">0C</text>
<text x="184" y="795.5" class="e">9</text>
<text x="5" y="859.5" class="d">...</text>
<text x="193" y="59.5" textLength="102" lengthAdjust="spacingAndGlyphs">0019FE84</text>
<text x="193" y="155.5" textLength="102" lengthAdjust="spacingAndGlyphs">0019FE90</text>
<text x="193" y="667.5" class="s" textLength="216.75" lengthAdjust="spacingAndGlyphs">ESP=EBP：0019FED0</text>
<text x="193" y="699.5" textLength="102" lengthAdjust="spacingAndGlyphs">0019FED4</text>
<text x="193" y="731.5" textLength="102" lengthAdjust="spacingAndGlyphs">0019FED8</text>
<text x="193" y="827.5" textLength="102" lengthAdjust="spacingAndGlyphs">0019FEE4</text>
<text x="193" y="891.5" textLength="102" lengthAdjust="spacingAndGlyphs">0019FF30</text>
<text x="5" y="955.5" textLength="140.25" lengthAdjust="spacingAndGlyphs">MOV ESP,EBP</text>
</g>

<g id="s13" transform="translate(926,1954)">
<rect class="k w" y="0" width="189" height="32"/><rect class="k l" y="32" width="189" height="32"/><rect class="k l" y="64" width="189" height="32"/><rect class="k l" y="96" width="189" height="32"/>
<rect class="k b" y="128" width="189" height="32"/><rect class="k b" y="160" width="189" height="32"/><rect class="k b" y="192" width="189" height="32"/><rect class="k b" y="224" width="189" height="32"/><rect class="k b" y="256" width="189" height="32"/><rect class="k b" y="288" width="189" height="32"/><rect class="k b" y="320" width="189" height="32"/><rect class="k b" y="352" width="189" height="32"/><rect class="k b" y="384" width="189" height="32"/><rect class="k b" y="416" width="189" height="32"/><rect class="k b" y="448" width="189" height="32"/><rect class="k b" y="480" width="189" height="32"/><rect class="k b" y="512" width="189" height="32"/><rect class="k b" y="544" width="189" height="32"/><rect class="k b" y="576" width="189" height="32"/><rect class="k b" y="608" width="189" height="32"/>
<rect class="k c" y="640" width="189" height="32"/><rect class="k p" y="672" width="189" height="32"/><rect class="k g" y="704" width="189" height="32"/><rect class="k g" y="736" width="189" height="32"/><rect class="k g" y="768" width="189" height="32"/><rect class="k y" y="800" width="189" height="32"/><rect class="k w" y="832" width="189" height="32"/><rect class="k y" y="864" width="189" height="32"/>
<polygon class="tri" points="0.7,672.7 6,672.7 0.7,678"/>
<text x="5" y="59.5" textLength="153" lengthAdjust="spacingAndGlyphs">EDI:0019FF30</text>
<text x="5" y="91.5" textLength="153" lengthAdjust="spacingAndGlyphs">ESI:00401220</text>
<text x="5" y="123.5" textLength="153" lengthAdjust="spacingAndGlyphs">EBX:003AB000</text>
<text x="5" y="155.5" textLength="102" lengthAdjust="spacingAndGlyphs">CCCCCCCC</text>
<text x="5" y="187.5" textLength="102" lengthAdjust="spacingAndGlyphs">CCCCCCCC</text>
<text x="5" y="219.5" textLength="102" lengthAdjust="spacingAndGlyphs">CCCCCCCC</text>
<text x="5" y="251.5" textLength="102" lengthAdjust="spacingAndGlyphs">CCCCCCCC</text>
<text x="5" y="283.5" textLength="102" lengthAdjust="spacingAndGlyphs">CCCCCCCC</text>
<text x="5" y="315.5" textLength="102" lengthAdjust="spacingAndGlyphs">CCCCCCCC</text>
<text x="5" y="347.5" textLength="102" lengthAdjust="spacingAndGlyphs">CCCCCCCC</text>
<text x="5" y="379.5" textLength="102" lengthAdjust="spacingAndGlyphs">CCCCCCCC</text>
<text x="5" y="411.5" textLength="102" lengthAdjust="spacingAndGlyphs">CCCCCCCC</text>
<text x="5" y="443.5" textLength="102" lengthAdjust="spacingAndGlyphs">CCCCCCCC</text>
<text x="5" y="475.5" textLength="102" lengthAdjust="spacingAndGlyphs">CCCCCCCC</text>
<text x="5" y="507.5" textLength="102" lengthAdjust="spacingAndGlyphs">CCCCCCCC</text>
<text x="5" y="539.5" textLength="102" lengthAdjust="spacingAndGlyphs">CCCCCCCC</text>
<text x="5" y="571.5" textLength="102" lengthAdjust="spacingAndGlyphs">CCCCCCCC</text>
<text x="5" y="603.5" textLength="102" lengthAdjust="spacingAndGlyphs">CCCCCCCC</text>
<text x="5" y="635.5" textLength="102" lengthAdjust="spacingAndGlyphs">CCCCCCCC</text>
<text x="5" y="667.5" textLength="153" lengthAdjust="spacingAndGlyphs">EBP:0019FF30</text>
<text x="5" y="699.5" textLength="102" lengthAdjust="spacingAndGlyphs">00401199</text>
<text x="184" y="731.5" class="e">5</text>
<text x="5" y="763.5" textLength="25.5" lengthAdjust="spacingAndGlyphs">0C</text>
<text x="184" y="795.5" class="e">9</text>
<text x="5" y="859.5" class="d">...</text>
<text x="193" y="59.5" textLength="102" lengthAdjust="spacingAndGlyphs">0019FE84</text>
<text x="193" y="155.5" textLength="102" lengthAdjust="spacingAndGlyphs">0019FE90</text>
<text x="193" y="667.5" textLength="102" lengthAdjust="spacingAndGlyphs">0019FED0</text>
<text x="193" y="699.5" textLength="165.75" lengthAdjust="spacingAndGlyphs">ESP：0019FED4</text>
<text x="193" y="731.5" textLength="102" lengthAdjust="spacingAndGlyphs">0019FED8</text>
<text x="193" y="827.5" textLength="102" lengthAdjust="spacingAndGlyphs">0019FEE4</text>
<text x="193" y="891.5" textLength="165.75" lengthAdjust="spacingAndGlyphs">EBP：0019FF30</text>
<text x="5" y="955.5" textLength="89.25" lengthAdjust="spacingAndGlyphs">POP EBP</text>
</g>

<g id="s14" transform="translate(1359,1954)">
<rect class="k w" y="0" width="189" height="32"/><rect class="k l" y="32" width="189" height="32"/><rect class="k l" y="64" width="189" height="32"/><rect class="k l" y="96" width="189" height="32"/>
<rect class="k b" y="128" width="189" height="32"/><rect class="k b" y="160" width="189" height="32"/><rect class="k b" y="192" width="189" height="32"/><rect class="k b" y="224" width="189" height="32"/><rect class="k b" y="256" width="189" height="32"/><rect class="k b" y="288" width="189" height="32"/><rect class="k b" y="320" width="189" height="32"/><rect class="k b" y="352" width="189" height="32"/><rect class="k b" y="384" width="189" height="32"/><rect class="k b" y="416" width="189" height="32"/><rect class="k b" y="448" width="189" height="32"/><rect class="k b" y="480" width="189" height="32"/><rect class="k b" y="512" width="189" height="32"/><rect class="k b" y="544" width="189" height="32"/><rect class="k b" y="576" width="189" height="32"/><rect class="k b" y="608" width="189" height="32"/>
<rect class="k c" y="640" width="189" height="32"/><rect class="k p" y="672" width="189" height="32"/><rect class="k g" y="704" width="189" height="32"/><rect class="k g" y="736" width="189" height="32"/><rect class="k g" y="768" width="189" height="32"/><rect class="k y" y="800" width="189" height="32"/><rect class="k w" y="832" width="189" height="32"/><rect class="k y" y="864" width="189" height="32"/>
<polygon class="tri" points="0.7,672.7 6,672.7 0.7,678"/>
<text x="5" y="59.5" textLength="153" lengthAdjust="spacingAndGlyphs">EDI:0019FF30</text>
<text x="5" y="91.5" textLength="153" lengthAdjust="spacingAndGlyphs">ESI:00401220</text>
<text x="5" y="123.5" textLength="153" lengthAdjust="spacingAndGlyphs">EBX:003AB000</text>
<text x="5" y="155.5" textLength="102" lengthAdjust="spacingAndGlyphs">CCCCCCCC</text>
<text x="5" y="187.5" textLength="102" lengthAdjust="spacingAndGlyphs">CCCCCCCC</text>
<text x="5" y="219.5" textLength="102" lengthAdjust="spacingAndGlyphs">CCCCCCCC</text>
<text x="5" y="251.5" textLength="102" lengthAdjust="spacingAndGlyphs">CCCCCCCC</text>
<text x="5" y="283.5" textLength="102" lengthAdjust="spacingAndGlyphs">CCCCCCCC</text>
<text x="5" y="315.5" textLength="102" lengthAdjust="spacingAndGlyphs">CCCCCCCC</text>
<text x="5" y="347.5" textLength="102" lengthAdjust="spacingAndGlyphs">CCCCCCCC</text>
<text x="5" y="379.5" textLength="102" lengthAdjust="spacingAndGlyphs">CCCCCCCC</text>
<text x="5" y="411.5" textLength="102" lengthAdjust="spacingAndGlyphs">CCCCCCCC</text>
<text x="5" y="443.5" textLength="102" lengthAdjust="spacingAndGlyphs">CCCCCCCC</text>
<text x="5" y="475.5" textLength="102" lengthAdjust="spacingAndGlyphs">CCCCCCCC</text>
<text x="5" y="507.5" textLength="102" lengthAdjust="spacingAndGlyphs">CCCCCCCC</text>
<text x="5" y="539.5" textLength="102" lengthAdjust="spacingAndGlyphs">CCCCCCCC</text>
<text x="5" y="571.5" textLength="102" lengthAdjust="spacingAndGlyphs">CCCCCCCC</text>
<text x="5" y="603.5" textLength="102" lengthAdjust="spacingAndGlyphs">CCCCCCCC</text>
<text x="5" y="635.5" textLength="102" lengthAdjust="spacingAndGlyphs">CCCCCCCC</text>
<text x="5" y="667.5" textLength="153" lengthAdjust="spacingAndGlyphs">EBP:0019FF30</text>
<text x="5" y="699.5" textLength="102" lengthAdjust="spacingAndGlyphs">00401199</text>
<text x="184" y="731.5" class="e">5</text>
<text x="5" y="763.5" textLength="25.5" lengthAdjust="spacingAndGlyphs">0C</text>
<text x="184" y="795.5" class="e">9</text>
<text x="5" y="859.5" class="d">...</text>
<text x="193" y="59.5" textLength="102" lengthAdjust="spacingAndGlyphs">0019FE84</text>
<text x="193" y="155.5" textLength="102" lengthAdjust="spacingAndGlyphs">0019FE90</text>
<text x="193" y="667.5" textLength="102" lengthAdjust="spacingAndGlyphs">0019FED0</text>
<text x="193" y="699.5" textLength="102" lengthAdjust="spacingAndGlyphs">0019FED4</text>
<text x="193" y="731.5" textLength="165.75" lengthAdjust="spacingAndGlyphs">ESP：0019FED8</text>
<text x="193" y="827.5" textLength="102" lengthAdjust="spacingAndGlyphs">0019FEE4</text>
<text x="193" y="891.5" textLength="165.75" lengthAdjust="spacingAndGlyphs">EBP：0019FF30</text>
<text x="5" y="955.5" textLength="51" lengthAdjust="spacingAndGlyphs">RETN</text>
<text x="5" y="1019.5" textLength="89.25" lengthAdjust="spacingAndGlyphs">pop eip</text>
</g>

<g id="s15" transform="translate(1792,1954)">
<rect class="k w" y="0" width="189" height="32"/><rect class="k l" y="32" width="189" height="32"/><rect class="k l" y="64" width="189" height="32"/><rect class="k l" y="96" width="189" height="32"/>
<rect class="k b" y="128" width="189" height="32"/><rect class="k b" y="160" width="189" height="32"/><rect class="k b" y="192" width="189" height="32"/><rect class="k b" y="224" width="189" height="32"/><rect class="k b" y="256" width="189" height="32"/><rect class="k b" y="288" width="189" height="32"/><rect class="k b" y="320" width="189" height="32"/><rect class="k b" y="352" width="189" height="32"/><rect class="k b" y="384" width="189" height="32"/><rect class="k b" y="416" width="189" height="32"/><rect class="k b" y="448" width="189" height="32"/><rect class="k b" y="480" width="189" height="32"/><rect class="k b" y="512" width="189" height="32"/><rect class="k b" y="544" width="189" height="32"/><rect class="k b" y="576" width="189" height="32"/><rect class="k b" y="608" width="189" height="32"/>
<rect class="k c" y="640" width="189" height="32"/><rect class="k p" y="672" width="189" height="32"/><rect class="k g" y="704" width="189" height="32"/><rect class="k g" y="736" width="189" height="32"/><rect class="k g" y="768" width="189" height="32"/><rect class="k y" y="800" width="189" height="32"/><rect class="k w" y="832" width="189" height="32"/><rect class="k y" y="864" width="189" height="32"/>
<polygon class="tri" points="0.7,672.7 6,672.7 0.7,678"/>
<text x="5" y="59.5" textLength="153" lengthAdjust="spacingAndGlyphs">EDI:0019FF30</text>
<text x="5" y="91.5" textLength="153" lengthAdjust="spacingAndGlyphs">ESI:00401220</text>
<text x="5" y="123.5" textLength="153" lengthAdjust="spacingAndGlyphs">EBX:003AB000</text>
<text x="5" y="155.5" textLength="102" lengthAdjust="spacingAndGlyphs">CCCCCCCC</text>
<text x="5" y="187.5" textLength="102" lengthAdjust="spacingAndGlyphs">CCCCCCCC</text>
<text x="5" y="219.5" textLength="102" lengthAdjust="spacingAndGlyphs">CCCCCCCC</text>
<text x="5" y="251.5" textLength="102" lengthAdjust="spacingAndGlyphs">CCCCCCCC</text>
<text x="5" y="283.5" textLength="102" lengthAdjust="spacingAndGlyphs">CCCCCCCC</text>
<text x="5" y="315.5" textLength="102" lengthAdjust="spacingAndGlyphs">CCCCCCCC</text>
<text x="5" y="347.5" textLength="102" lengthAdjust="spacingAndGlyphs">CCCCCCCC</text>
<text x="5" y="379.5" textLength="102" lengthAdjust="spacingAndGlyphs">CCCCCCCC</text>
<text x="5" y="411.5" textLength="102" lengthAdjust="spacingAndGlyphs">CCCCCCCC</text>
<text x="5" y="443.5" textLength="102" lengthAdjust="spacingAndGlyphs">CCCCCCCC</text>
<text x="5" y="475.5" textLength="102" lengthAdjust="spacingAndGlyphs">CCCCCCCC</text>
<text x="5" y="507.5" textLength="102" lengthAdjust="spacingAndGlyphs">CCCCCCCC</text>
<text x="5" y="539.5" textLength="102" lengthAdjust="spacingAndGlyphs">CCCCCCCC</text>
<text x="5" y="571.5" textLength="102" lengthAdjust="spacingAndGlyphs">CCCCCCCC</text>
<text x="5" y="603.5" textLength="102" lengthAdjust="spacingAndGlyphs">CCCCCCCC</text>
<text x="5" y="635.5" textLength="102" lengthAdjust="spacingAndGlyphs">CCCCCCCC</text>
<text x="5" y="667.5" textLength="153" lengthAdjust="spacingAndGlyphs">EBP:0019FF30</text>
<text x="5" y="699.5" textLength="102" lengthAdjust="spacingAndGlyphs">00401199</text>
<text x="184" y="731.5" class="e">5</text>
<text x="5" y="763.5" textLength="25.5" lengthAdjust="spacingAndGlyphs">0C</text>
<text x="184" y="795.5" class="e">9</text>
<text x="5" y="859.5" class="d">...</text>
<text x="193" y="59.5" textLength="102" lengthAdjust="spacingAndGlyphs">0019FE84</text>
<text x="193" y="155.5" textLength="102" lengthAdjust="spacingAndGlyphs">0019FE90</text>
<text x="193" y="667.5" textLength="102" lengthAdjust="spacingAndGlyphs">0019FED0</text>
<text x="193" y="699.5" textLength="102" lengthAdjust="spacingAndGlyphs">0019FED4</text>
<text x="193" y="731.5" textLength="102" lengthAdjust="spacingAndGlyphs">0019FED8</text>
<text x="193" y="827.5" textLength="165.75" lengthAdjust="spacingAndGlyphs">ESP：0019FEE4</text>
<text x="193" y="891.5" textLength="165.75" lengthAdjust="spacingAndGlyphs">EBP：0019FF30</text>
<text x="5" y="955.5" textLength="127.5" lengthAdjust="spacingAndGlyphs">ADD ESP,0C</text>
</g>

<g id="connectors"></g>
</svg>
